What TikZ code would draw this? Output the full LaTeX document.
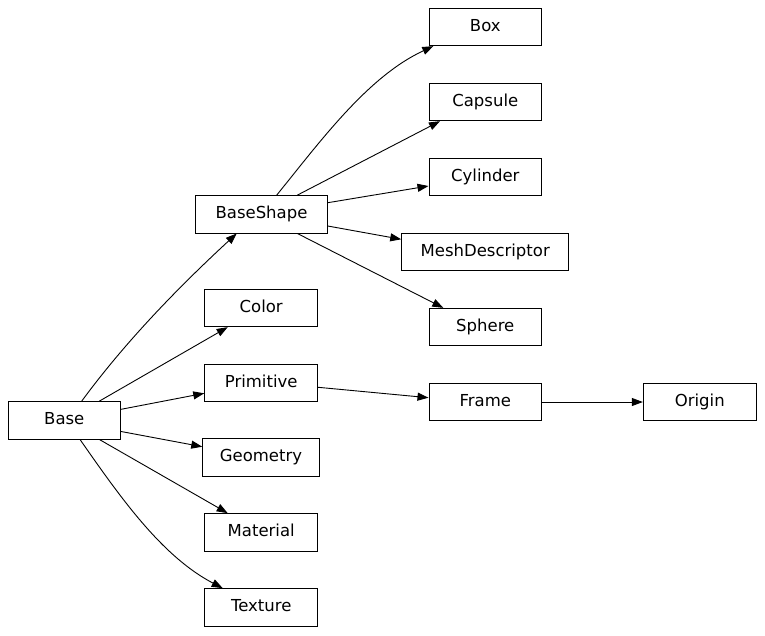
\documentclass[tikz,border=0pt]{standalone}
\usepackage{fontspec}
\setmainfont{DejaVu Sans}
\usetikzlibrary{arrows.meta,calc}
\begin{document}
\begin{tikzpicture}[x=1pt,y=-1pt,
  cls/.style={draw=black, line width=0.9pt, minimum height=37.4pt, minimum width=112.7pt, inner sep=0pt, text height=12pt, text depth=4pt, font=\fontsize{16.5}{19}\selectfont},
  edge/.style={line width=0.9pt, -{Triangle[length=11pt,width=8pt]}}]
\useasboundingbox (0,0) rectangle (765,635);
% right column
\node[cls] (box) at (485.3,27) {Box};
\node[cls] (capsule) at (485.3,102) {Capsule};
\node[cls] (cylinder) at (485.3,177) {Cylinder};
\node[cls, minimum width=167pt] (mesh) at (485.2,252) {MeshDescriptor};
\node[cls] (sphere) at (485.3,327) {Sphere};
\node[cls] (frame) at (485.3,402) {Frame};
\node[cls, minimum width=113pt] (origin) at (699.8,402) {Origin};
% middle column
\node[cls, minimum width=131.6pt] (baseshape) at (261.5,214.3) {BaseShape};
\node[cls, minimum width=113pt] (color) at (261.2,308) {Color};
\node[cls, minimum width=113pt] (primitive) at (261.2,383) {Primitive};
\node[cls, minimum width=116.6pt] (geometry) at (261,457.3) {Geometry};
\node[cls, minimum width=113pt] (material) at (261.2,532.3) {Material};
\node[cls, minimum width=113pt] (texture) at (261.2,607.3) {Texture};
% left
\node[cls] (base) at (64.3,420.3) {Base};
% edges from Base
\draw[edge] ($(base.north)+(17.4,0)$) .. controls (126.4,340.2) and (181.1,284.8) .. ($(baseshape.south)+(-24.8,0)$);
\draw[edge] ($(base.north)+(35,0)$) -- ($(color.south)+(-33.5,0)$);
\draw[edge] ($(base.east)+(0,-11)$) -- ($(primitive.west)+(0,10.3)$);
\draw[edge] ($(base.east)+(0,11.2)$) -- ($(geometry.west)+(0,-10.6)$);
\draw[edge] ($(base.south)+(35,0)$) -- ($(material.north)+(-33.5,0)$);
\draw[edge] ($(base.south)+(15.7,0)$) .. controls (119.7,496.4) and (161.7,556.4) .. ($(texture.north)+(-38.5,0)$);
% edges from BaseShape
\draw[edge] ($(baseshape.north)+(15.2,0)$) .. controls (321.7,139.5) and (368.2,76.4) .. ($(box.south)+(-52,0)$);
\draw[edge] ($(baseshape.north)+(35.8,0)$) -- ($(capsule.south)+(-45.3,0)$);
\draw[edge] ($(baseshape.east)+(0,-11.6)$) -- ($(cylinder.west)+(0,9)$);
\draw[edge] ($(baseshape.east)+(0,11.7)$) -- ($(mesh.west)+(0,-12.7)$);
\draw[edge] ($(baseshape.south)+(35.8,0)$) -- ($(sphere.north)+(-42,0)$);
% others
\draw[edge] ($(primitive.east)+(0,4.3)$) -- ($(frame.west)+(0,-4.3)$);
\draw[edge] (frame.east) -- (origin.west);
\end{tikzpicture}
\end{document}
